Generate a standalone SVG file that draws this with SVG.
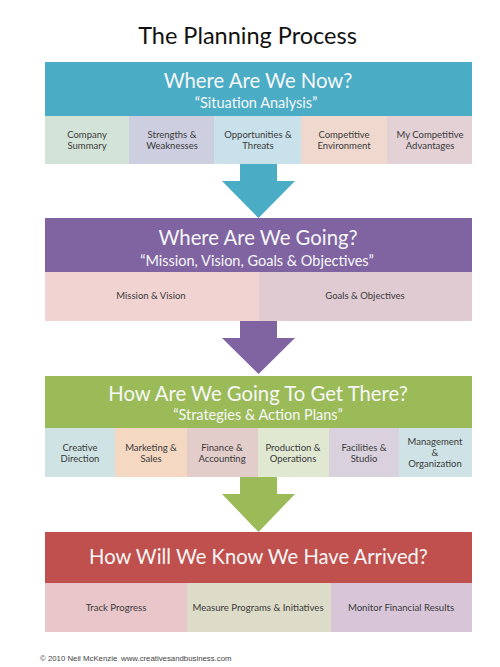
<svg xmlns="http://www.w3.org/2000/svg" width="500" height="667" viewBox="0 0 500 667">
<style>
  .hd{font-family:Lato,"Open Sans","Liberation Sans",sans-serif;fill:#f7f7f7;text-anchor:middle}
  .h1{font-size:20.3px}
  .h2{font-size:14.5px}
  .sb{font-family:Lato,"Open Sans","Liberation Sans",sans-serif;font-size:9.5px;fill:#3a3a3a;text-anchor:middle}
  .sb4{font-size:9.6px}
  .title{font-family:Lato,"Open Sans","Liberation Sans",sans-serif;font-size:23.5px;fill:#111;text-anchor:middle}
  .foot{font-family:"Liberation Sans",sans-serif;font-size:7.8px;fill:#444}
</style>
<rect width="500" height="667" fill="#ffffff"/>
<text class="title" x="247.5" y="44">The Planning Process</text>

<g id="connectors">
  <polygon points="240,164 277,164 277,181 295,181 258.5,218 222,181 240,181" fill="#4BACC6"/>
  <polygon points="240,321 277,321 277,338 295,338 258.5,374 222,338 240,338" fill="#8064A2"/>
  <polygon points="240,477 277,477 277,494 295,494 258.5,532 222,494 240,494" fill="#9BBB59"/>
</g>

<g id="now">
  <rect x="45" y="62" width="427" height="54" fill="#4BACC6"/>
  <text class="hd h1" x="258" y="88">Where Are We Now?</text>
  <text class="hd h2" x="256" y="108">“Situation Analysis”</text>
</g>
<g id="company-summary">
  <rect x="45" y="116" width="84" height="48" fill="#D4E3D7"/>
  <text class="sb" x="87" y="138">Company</text>
  <text class="sb" x="87" y="149">Summary</text>
</g>
<g id="strengths">
  <rect x="129" y="116" width="85" height="48" fill="#CDCFE0"/>
  <text class="sb" x="172" y="138">Strengths &amp;</text>
  <text class="sb" x="172" y="149">Weaknesses</text>
</g>
<g id="opportunities">
  <rect x="214" y="116" width="87" height="48" fill="#C9E1EA"/>
  <text class="sb" x="258" y="138">Opportunities &amp;</text>
  <text class="sb" x="258" y="149">Threats</text>
</g>
<g id="competitive-environment">
  <rect x="301" y="116" width="86" height="48" fill="#EFD9CF"/>
  <text class="sb" x="344" y="138">Competitive</text>
  <text class="sb" x="344" y="149">Environment</text>
</g>
<g id="competitive-advantages">
  <rect x="387" y="116" width="85" height="48" fill="#E3D1D5"/>
  <text class="sb" x="430" y="138">My Competitive</text>
  <text class="sb" x="430" y="149">Advantages</text>
</g>

<g id="going">
  <rect x="45" y="218" width="427" height="54" fill="#8064A2"/>
  <text class="hd h1" x="258" y="245">Where Are We Going?</text>
  <text class="hd h2" x="257" y="266">“Mission, Vision, Goals &amp; Objectives”</text>
</g>
<g id="mission-vision">
  <rect x="45" y="272" width="214" height="49" fill="#F1D3D2"/>
  <text class="sb" x="151" y="299">Mission &amp; Vision</text>
</g>
<g id="goals-objectives">
  <rect x="259" y="272" width="213" height="49" fill="#E0CBD3"/>
  <text class="sb" x="365" y="299">Goals &amp; Objectives</text>
</g>

<g id="get-there">
  <rect x="45" y="376" width="427" height="52" fill="#9BBB59"/>
  <text class="hd h1" x="258" y="401">How Are We Going To Get There?</text>
  <text class="hd h2" x="258" y="420">“Strategies &amp; Action Plans”</text>
</g>
<g id="creative-direction">
  <rect x="45" y="428" width="70" height="49" fill="#CFE3E4"/>
  <text class="sb" x="80" y="451">Creative</text>
  <text class="sb" x="80" y="462">Direction</text>
</g>
<g id="marketing-sales">
  <rect x="115" y="428" width="72" height="49" fill="#F5D8C2"/>
  <text class="sb" x="151" y="451">Marketing &amp;</text>
  <text class="sb" x="151" y="462">Sales</text>
</g>
<g id="finance-accounting">
  <rect x="187" y="428" width="71" height="49" fill="#E3CDCB"/>
  <text class="sb" x="222" y="451">Finance &amp;</text>
  <text class="sb" x="222" y="462">Accounting</text>
</g>
<g id="production-operations">
  <rect x="258" y="428" width="71" height="49" fill="#E0E8D2"/>
  <text class="sb" x="293" y="451">Production &amp;</text>
  <text class="sb" x="293" y="462">Operations</text>
</g>
<g id="facilities-studio">
  <rect x="329" y="428" width="70" height="49" fill="#D9D2DE"/>
  <text class="sb" x="364" y="451">Facilities &amp;</text>
  <text class="sb" x="364" y="462">Studio</text>
</g>
<g id="management-organization">
  <rect x="399" y="428" width="73" height="49" fill="#CFE3E6"/>
  <text class="sb" x="435" y="445">Management</text>
  <text class="sb" x="435" y="456">&amp;</text>
  <text class="sb" x="435" y="467">Organization</text>
</g>

<g id="arrived">
  <rect x="45" y="532" width="427" height="51" fill="#C0504D"/>
  <text class="hd" x="258.5" y="564" font-size="20.2">How Will We Know We Have Arrived?</text>
</g>
<g id="track-progress">
  <rect x="45" y="583" width="142" height="49" fill="#E8C6C9"/>
  <text class="sb sb4" x="116" y="611">Track Progress</text>
</g>
<g id="measure-programs">
  <rect x="187" y="583" width="144" height="49" fill="#DDDCC8"/>
  <text class="sb sb4" x="258" y="611">Measure Programs &amp; Initiatives</text>
</g>
<g id="monitor-financial">
  <rect x="331" y="583" width="141" height="49" fill="#D8C6D8"/>
  <text class="sb sb4" x="401" y="611">Monitor Financial Results</text>
</g>

<text class="foot" x="40" y="661">© 2010 Neil McKenzie</text>
<text class="foot" x="121" y="661">www.creativesandbusiness.com</text>
</svg>
